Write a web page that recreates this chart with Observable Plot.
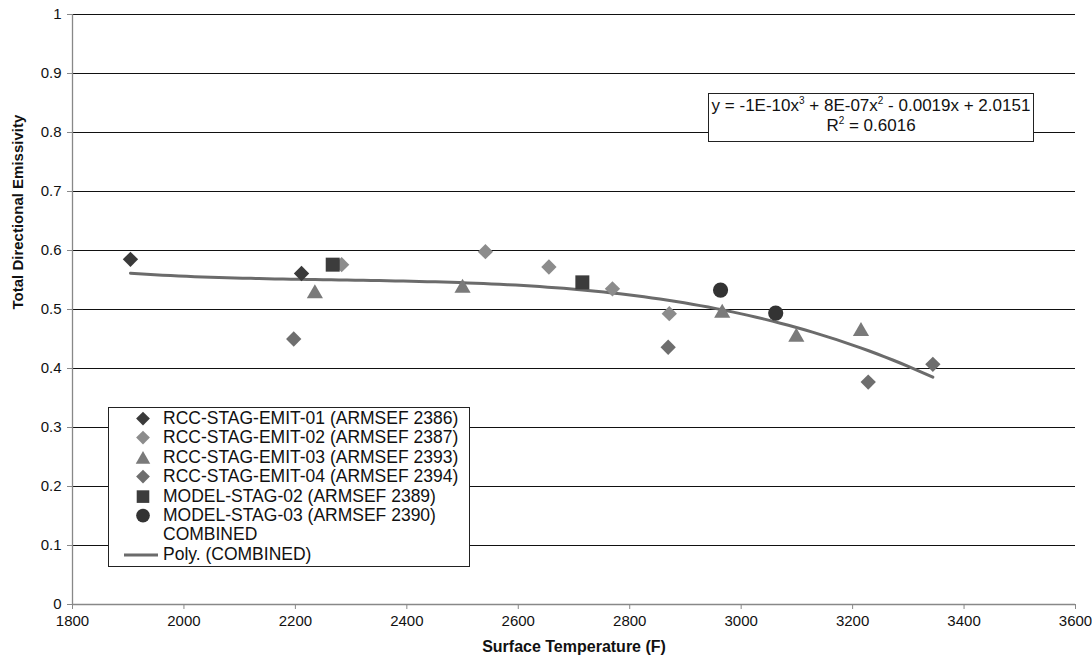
<!DOCTYPE html>
<html>
<head>
<meta charset="utf-8">
<script src="https://cdn.jsdelivr.net/npm/d3@7"></script>
<script src="https://cdn.jsdelivr.net/npm/@observablehq/plot@0.6"></script>
<style>
  html, body { margin: 0; padding: 0; background: #fff; }
  #wrap { position: relative; width: 1092px; height: 664px; font-family: "Liberation Sans", Arial, sans-serif; }
  #legend { position: absolute; left: 108px; top: 407px; width: 362px; height: 160px; background: #fff; border: 1px solid #222; box-sizing: border-box; padding-top: 1px; }
  .row { height: 19.4px; line-height: 19.4px; font-size: 17.5px; color: #111; position: relative; white-space: nowrap; }
  .row svg { position: absolute; left: 14px; top: 0; }
  .row span { position: absolute; left: 54px; }
  #eq { position: absolute; left: 708px; top: 93px; width: 326px; height: 49px; background: #fff; border: 1px solid #222; box-sizing: border-box; text-align: center; font-size: 17px; line-height: 20px; color: #111; padding-top: 2px; white-space: nowrap; }
  #eq sup { font-size: 10px; vertical-align: 7px; line-height: 0; }
</style>
</head>
<body>
<div id="wrap"></div>
<script>
// ---- data ----
const rcc01T = [1904, 2211];
const rcc01E = [0.585, 0.561];
const rcc02T = [2283, 2541, 2655, 2769, 2871];
const rcc02E = [0.576, 0.598, 0.572, 0.535, 0.493];
const rcc03T = [2235, 2500, 2966, 3099, 3215];
const rcc03E = [0.531, 0.540, 0.498, 0.457, 0.467];
const rcc04T = [2197, 2869, 3228, 3344];
const rcc04E = [0.450, 0.436, 0.377, 0.407];
const model02T = [2267, 2715];
const model02E = [0.576, 0.546];
const model03T = [2963, 3062];
const model03E = [0.533, 0.494];

const seriesNames = [
  "RCC-STAG-EMIT-01 (ARMSEF 2386)",
  "RCC-STAG-EMIT-02 (ARMSEF 2387)",
  "RCC-STAG-EMIT-03 (ARMSEF 2393)",
  "RCC-STAG-EMIT-04 (ARMSEF 2394)",
  "MODEL-STAG-02 (ARMSEF 2389)",
  "MODEL-STAG-03 (ARMSEF 2390)"
];
const xTicks = [1800, 2000, 2200, 2400, 2600, 2800, 3000, 3200, 3400, 3600];
const yTicks = [0, 0.1, 0.2, 0.3, 0.4, 0.5, 0.6, 0.7, 0.8, 0.9, 1];
const eqLine1 = "y = -1E-10x<sup>3</sup> + 8E-07x<sup>2</sup> - 0.0019x + 2.0151";
const eqLine2 = "R<sup>2</sup> = 0.6016";

// ---- styles ----
const styles = [
  {symbol: "diamond2", fill: "#3a3a3a", r: 6.9, dy: 0},
  {symbol: "diamond2", fill: "#8c8c8c", r: 6.9, dy: 0},
  {symbol: "triangle", fill: "#7a7a7a", r: 6.0, dy: 2.3},
  {symbol: "diamond2", fill: "#6e6e6e", r: 6.9, dy: 0},
  {symbol: "square", fill: "#3c3c3c", r: 7.9, dy: 0},
  {symbol: "circle", fill: "#333333", r: 7.6, dy: 0}
];
const seriesT = [rcc01T, rcc02T, rcc03T, rcc04T, model02T, model03T];
const seriesE = [rcc01E, rcc02E, rcc03E, rcc04E, model02E, model03E];
const points = seriesT.map((ts, i) => ts.map((t, j) => ({t, e: seriesE[i][j], s: i})));

// ---- cubic least-squares trendline (Poly. COMBINED) ----
const all = points.flat();
const c0 = 2600, sc = 1000;
const A = [[0,0,0,0],[0,0,0,0],[0,0,0,0],[0,0,0,0]], B = [0,0,0,0];
for (const p of all) {
  const u = (p.t - c0) / sc;
  const pw = [1, u, u*u, u*u*u];
  for (let a = 0; a < 4; a++) { B[a] += pw[a] * p.e; for (let b = 0; b < 4; b++) A[a][b] += pw[a] * pw[b]; }
}
for (let i = 0; i < 4; i++) {
  let m = i; for (let k = i+1; k < 4; k++) if (Math.abs(A[k][i]) > Math.abs(A[m][i])) m = k;
  [A[i], A[m]] = [A[m], A[i]]; [B[i], B[m]] = [B[m], B[i]];
  for (let k = i+1; k < 4; k++) { const f = A[k][i] / A[i][i]; for (let j = i; j < 4; j++) A[k][j] -= f * A[i][j]; B[k] -= f * B[i]; }
}
const coef = [0,0,0,0];
for (let i = 3; i >= 0; i--) { let s = B[i]; for (let j = i+1; j < 4; j++) s -= A[i][j] * coef[j]; coef[i] = s / A[i][i]; }
const tMin = d3.min(all, d => d.t), tMax = d3.max(all, d => d.t);
const curve = d3.range(0, 101).map(k => {
  const t = tMin + (tMax - tMin) * k / 100;
  const u = (t - c0) / sc;
  return {t, e: coef[0] + coef[1]*u + coef[2]*u*u + coef[3]*u*u*u};
});

const fmtY = d => String(+d.toFixed(1));
const fmtX = d => String(d);

const chart = Plot.plot({
  width: 1092,
  height: 664,
  marginLeft: 72,
  marginRight: 17,
  marginTop: 14,
  marginBottom: 60,
  style: {fontFamily: "'Liberation Sans', Arial, sans-serif", fontSize: "15px", color: "#111", background: "#fff", overflow: "visible"},
  x: {domain: [1800, 3600], ticks: xTicks},
  y: {domain: [0, 1], ticks: yTicks},
  marks: [
    Plot.ruleY(yTicks.filter(d => d > 0), {stroke: "#111", strokeWidth: 1}),
    Plot.ruleX([1800], {stroke: "#888", strokeWidth: 1.3}),
    Plot.ruleY([0], {stroke: "#888", strokeWidth: 1.3}),
    Plot.axisX({ticks: xTicks, tickSize: 5, tickPadding: 6, stroke: "#888", fontSize: 15, tickFormat: fmtX, label: null}),
    Plot.axisY({ticks: yTicks, tickSize: 5, tickPadding: 6, stroke: "#888", fontSize: 15, tickFormat: fmtY, label: null}),
    Plot.line(curve, {x: "t", y: "e", stroke: "#6b6b6b", strokeWidth: 3}),
    ...points.map((pts, i) => Plot.dot(pts, {x: "t", y: "e", symbol: () => styles[i].symbol, fill: styles[i].fill, r: styles[i].r, dy: styles[i].dy})),
    Plot.text(["Surface Temperature (F)"], {frameAnchor: "bottom", dy: 47, fontWeight: "bold", fontSize: 16, fill: "#111"}),
    Plot.text(["Total Directional Emissivity"], {frameAnchor: "left", dx: -54, rotate: -90, fontWeight: "bold", fontSize: 15, fill: "#111"})
  ]
});

const wrap = document.getElementById("wrap");
wrap.appendChild(chart);

// legend overlay (Excel-style legend inside the plot area)
const legend = document.createElement("div");
legend.id = "legend";
const symMap = {diamond2: d3.symbolDiamond2, triangle: d3.symbolTriangle, square: d3.symbolSquare, circle: d3.symbolCircle};
seriesNames.forEach((name, i) => {
  const st = styles[i];
  const sz = Math.PI * (st.r * 0.9) ** 2;
  const path = d3.symbol(symMap[st.symbol], sz)();
  const row = document.createElement("div");
  row.className = "row";
  row.innerHTML = `<svg width="40" height="19.4"><path d="${path}" fill="${st.fill}" transform="translate(20,${st.symbol === "triangle" ? 11.5 : 9.6})"/></svg><span>${name}</span>`;
  legend.appendChild(row);
});
const r7 = document.createElement("div");
r7.className = "row";
r7.innerHTML = `<span>COMBINED</span>`;
legend.appendChild(r7);
const r8 = document.createElement("div");
r8.className = "row";
r8.innerHTML = `<svg width="50" height="19.4" style="left:0"><line x1="15" x2="49" y1="10" y2="10" stroke="#6b6b6b" stroke-width="3"/></svg><span>Poly. (COMBINED)</span>`;
legend.appendChild(r8);
wrap.appendChild(legend);

const eq = document.createElement("div");
eq.id = "eq";
eq.innerHTML = `<div>${eqLine1}</div><div>${eqLine2}</div>`;
wrap.appendChild(eq);
</script>
</body>
</html>
